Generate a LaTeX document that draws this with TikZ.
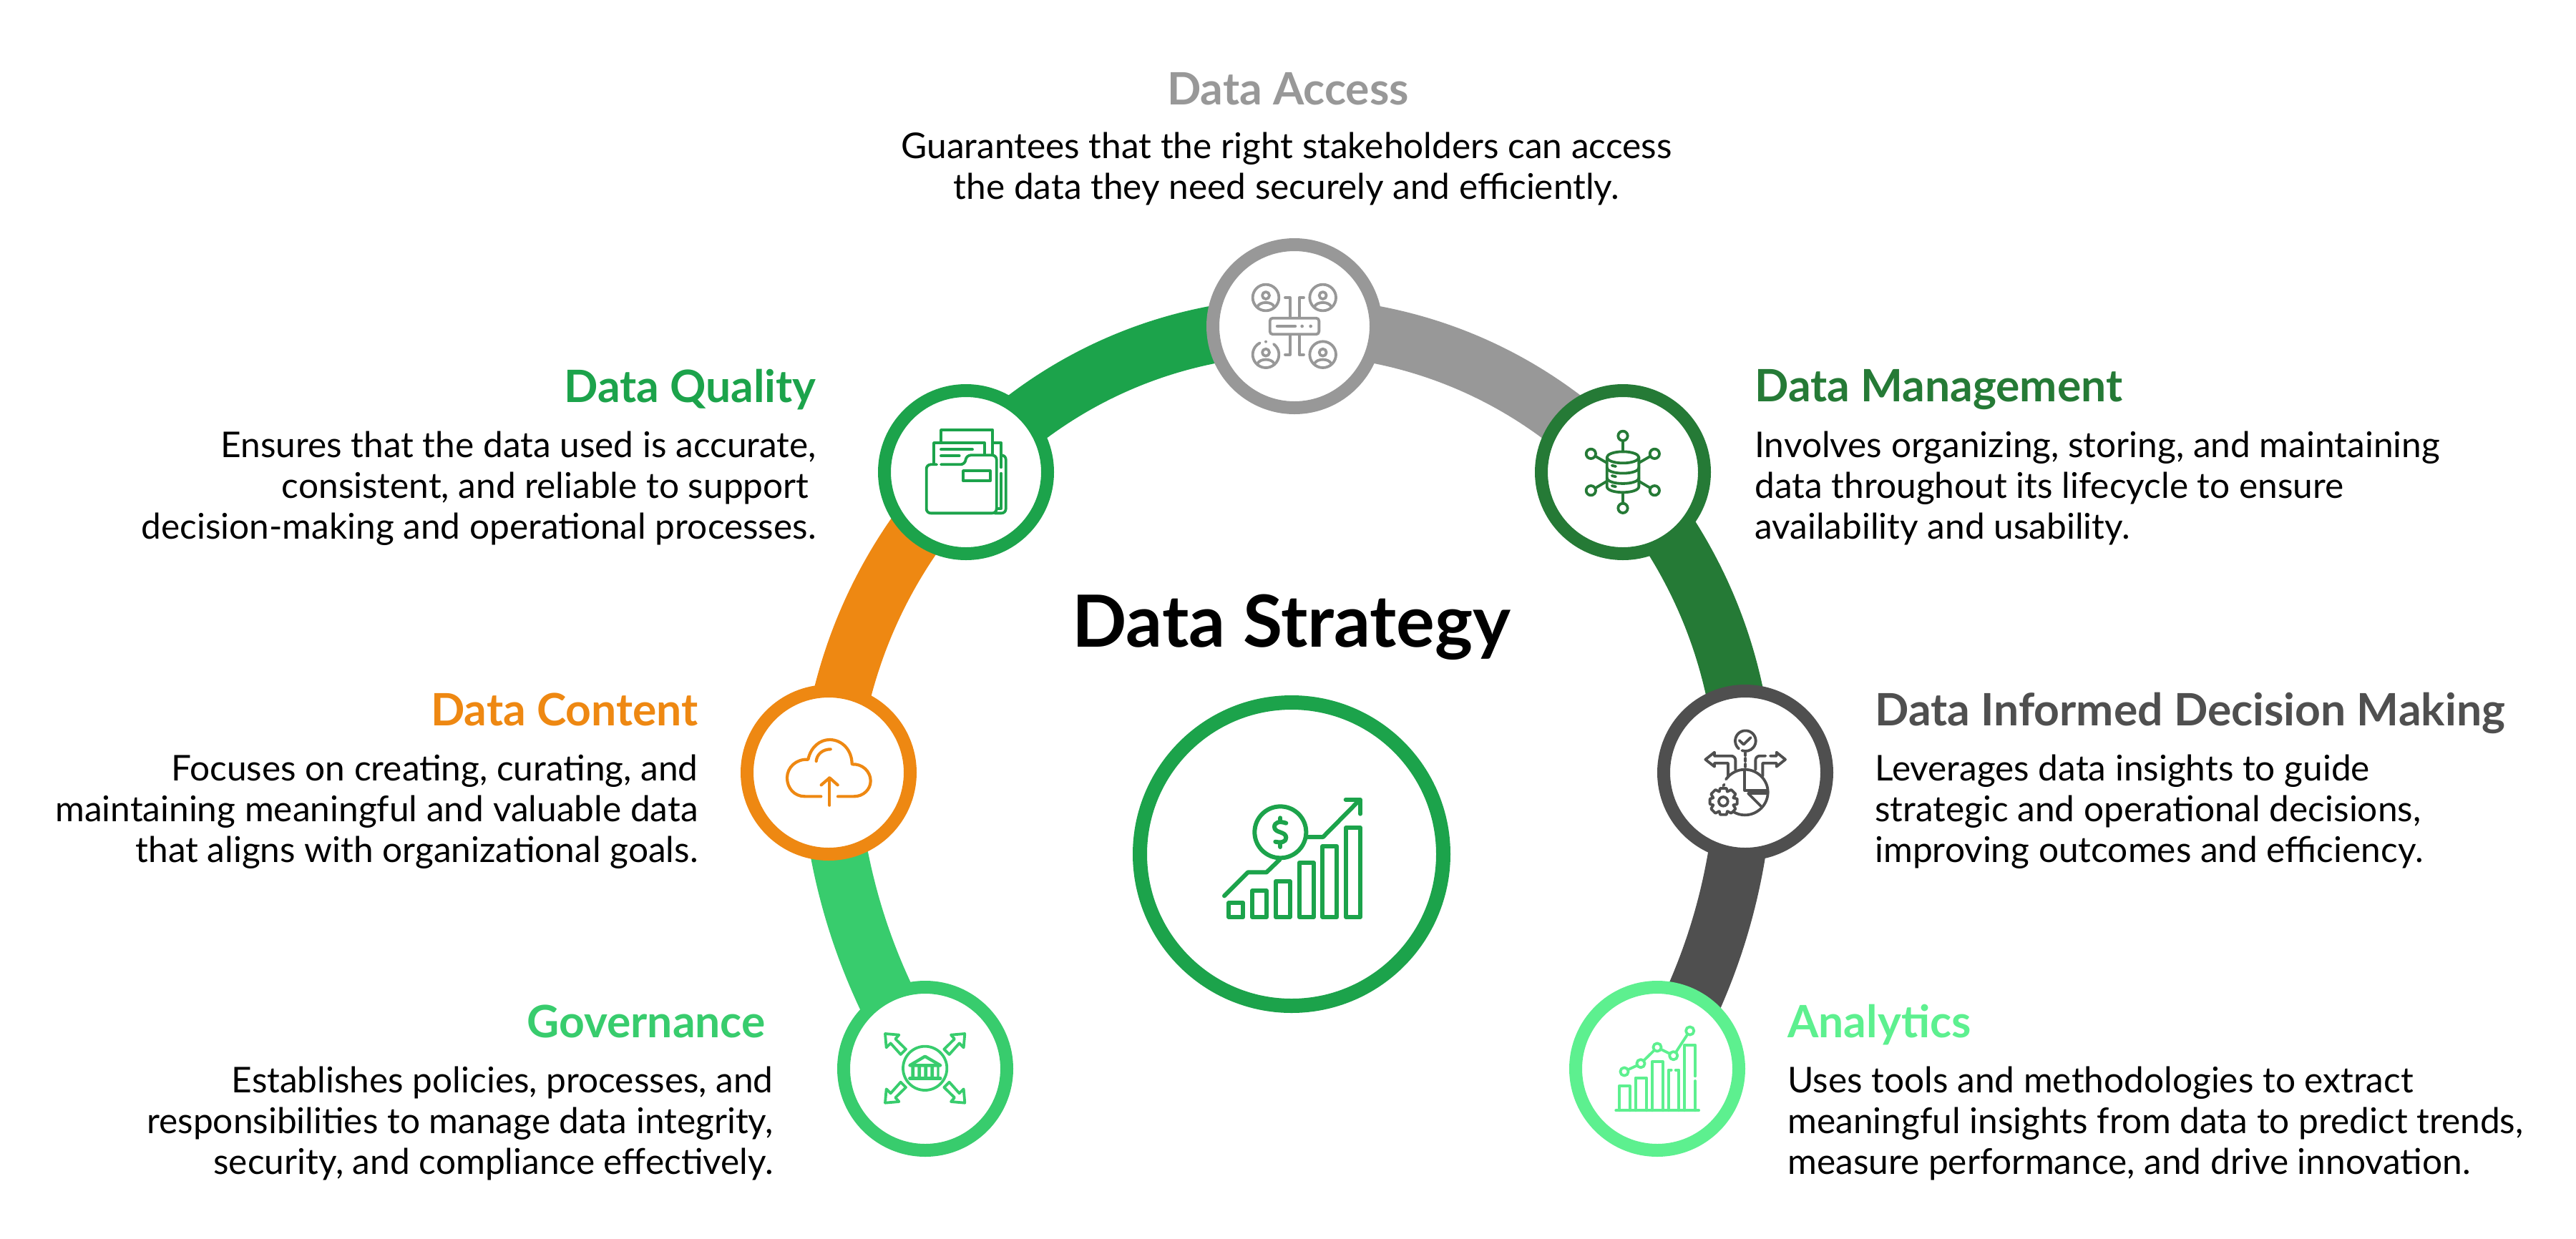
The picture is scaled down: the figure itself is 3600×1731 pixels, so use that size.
\documentclass[tikz,border=0pt]{standalone}
\usepackage{fontspec}
\setmainfont{Lato}
\usetikzlibrary{backgrounds}
\definecolor{cgray}{HTML}{989898}
\definecolor{cgreen}{HTML}{1CA34B}
\definecolor{corange}{HTML}{EE8812}
\definecolor{clime}{HTML}{38CC6D}
\definecolor{cdark}{HTML}{257A36}
\definecolor{cchar}{HTML}{4F4F4F}
\definecolor{cmint}{HTML}{5DF08F}
\tikzset{
  ring/.style={circle,draw=#1,line width=9pt,fill=white,minimum size=114pt,inner sep=0pt},
  link/.style={line width=40pt,draw=#1,looseness=0.9},
  title/.style={font=\fontsize{31.2}{36}\bfseries\selectfont,text=#1,inner sep=0pt},
  bodyr/.style={font=\fontsize{24.8}{28.4}\selectfont,align=right,inner sep=0pt,anchor=north east},
  bodyl/.style={font=\fontsize{24.8}{28.4}\selectfont,align=left,inner sep=0pt,anchor=north west},
  zoomed/.style 2 args={shift={(#1,#2)},x=0.16667pt,y=-0.16667pt},
  ico/.style={draw=#1,line width=1.9pt,line cap=round,line join=round},
}
\newcommand{\personc}[2]{%
  \draw (#1,#2-9) circle (15);
  \draw (#1-35,#2+38) .. controls (#1-25,#2+15) and (#1+25,#2+15) .. (#1+35,#2+38);
}
\begin{document}
\begin{tikzpicture}[x=0.5pt,y=-0.5pt]
\useasboundingbox (0,0) rectangle (3600,1731);

% rings
\node[ring=cgray]  (access)   at (1809,456)  {};
\node[ring=cgreen] (quality)  at (1350,660)  {};
\node[ring=cdark]  (mgmt)     at (2268,660)  {};
\node[ring=corange](content)  at (1158,1080) {};
\node[ring=cchar]  (didm)     at (2439,1080) {};
\node[ring=clime]  (gov)      at (1293,1494) {};
\node[ring=cmint]  (analytics)at (2316,1494) {};
\node[circle,draw=cgreen,line width=10pt,fill=white,minimum size=212pt,inner sep=0pt] (core) at (1805,1194) {};

% connectors, behind the rings
\begin{scope}[on background layer]
\draw[link=cgray]   (access.center) to[bend left=23]  (mgmt.center);
\draw[link=cdark]   (mgmt.center)   to[bend left=19]  (didm.center);
\draw[link=cchar]   (didm.center)   to[bend left=14]  (analytics.center);
\draw[link=cgreen]  (quality.center) to[bend left=23] (access.center);
\draw[link=corange] (content.center) to[bend left=19] (quality.center);
\draw[link=clime]   (gov.center)     to[bend left=14] (content.center);
\end{scope}

% texts
\node[font=\fontsize{50.3}{58}\bfseries\selectfont,inner sep=0pt] (head) at (1805,877) {Data Strategy};

\node[title=cgray] (t1) at (1800,124) {Data Access};
\node[font=\fontsize{24.8}{28.4}\selectfont,align=center,inner sep=0pt,anchor=north] (b1) at (1798,185)
  {Guarantees that the right stakeholders can access\\the data they need securely and efficiently.};

\node[title=cgreen,anchor=east] (t2) at (1141,545) {Data Quality};
\node[bodyr] (b2) at (1141,603) {Ensures that the data used is accurate,\\consistent, and reliable to support\hspace{5pt}\null\\decision-making and operational processes.};

\node[title=cdark,anchor=west] (t3) at (2452,545) {Data Management};
\node[bodyl] (b3) at (2452,603) {Involves organizing, storing, and maintaining\\data throughout its lifecycle to ensure\\availability and usability.};

\node[title=corange,anchor=east] (t4) at (976,992) {Data Content};
\node[bodyr] (b4) at (976,1055) {Focuses on creating, curating, and\\maintaining meaningful and valuable data\\that aligns with organizational goals.};

\node[title=cchar,anchor=west] (t5) at (2620,997) {Data Informed Decision Making};
\node[bodyl] (b5) at (2620,1055) {Leverages data insights to guide\\strategic and operational decisions,\\improving outcomes and efficiency.};

\node[title=clime,anchor=east] (t6) at (1070,1428) {Governance};
\node[bodyr] (b6) at (1081,1491) {Establishes policies, processes, and\\responsibilities to manage data integrity,\\security, and compliance effectively.};

\node[title=cmint,anchor=west] (t7) at (2498,1433) {Analytics};
\node[bodyl] (b7) at (2498,1491) {Uses tools and methodologies to extract\\meaningful insights from data to predict trends,\\measure performance, and drive innovation.};

% icon: access
\begin{scope}[zoomed={1650}{310},ico=cgray]
\draw (357,318) circle (55); \draw (596,318) circle (55); \draw (596,557) circle (55);
\draw (357,557) ++(307:55) arc (307:603:55);
\fill[cgray,draw=none] (357,503) circle (6);
\personc{357}{318}\personc{596}{318}\personc{357}{557}\personc{596}{557}
\draw[rounded corners=2pt] (374,404) rectangle (580,472);
\draw[line width=2.2pt] (405,438) -- (480,438);
\fill[cgray,draw=none] (509,438) circle (7) (545,438) circle (7);
\draw (438,318) -- (458,318) -- (458,400);
\draw (516,318) -- (497,318) -- (497,400);
\draw (438,557) -- (458,557) -- (458,476);
\draw (516,557) -- (497,557) -- (497,476);
\end{scope}

% icon: folder
\begin{scope}[zoomed={1200}{520},ico=cgreen]
\draw (345,295) -- (345,243) -- (562,243) -- (562,345);
\draw (315,385) -- (315,297) -- (527,297) -- (527,345);
\draw (565,297) -- (597,297) -- (597,400);
\draw (597,425) -- (597,572) -- (578,572);
\draw (345,325) -- (477,325);
\draw (345,352) -- (422,352);
\draw[rounded corners=3pt] (327,388) -- (284,388) -- (284,592) -- (578,592) -- (578,349) -- (452,349) -- (445,388) -- (345,388);
\draw[rounded corners=3pt] (597,349) -- (617,349) -- (617,592) -- (570,592);
\draw (438,414) rectangle (551,457);
\end{scope}

% icon: database
\begin{scope}[zoomed={2120}{520},ico=cdark]
\draw (444,358) ellipse (67 and 24);
\draw (377,358) -- (377,480) .. controls (377,513) and (511,513) .. (511,480) -- (511,358);
\draw (377,400) .. controls (377,433) and (511,433) .. (511,400);
\draw (377,443) .. controls (377,476) and (511,476) .. (511,443);
\draw (398,392) -- (414,396) (398,435) -- (414,439) (398,477) -- (414,481);
\foreach \cx/\cy in {444/268,310/343,577/343,310/497,577/497,444/571} \draw (\cx,\cy) circle (20);
\draw (444,288) -- (444,334) (330,354) -- (377,381) (558,354) -- (511,381)
      (330,486) -- (377,458) (558,486) -- (511,458) (444,506) -- (444,551);
\end{scope}

% icon: cloud
\begin{scope}[zoomed={1020}{950},ico=corange,line width=2.1pt]
\draw (382,490) -- (315,490) .. controls (270,490) and (240,455) .. (240,412)
  .. controls (240,368) and (278,332) .. (328,335)
  .. controls (340,280) and (380,252) .. (418,252)
  .. controls (470,252) and (512,295) .. (512,355)
  .. controls (555,352) and (590,385) .. (590,425)
  .. controls (590,460) and (560,490) .. (520,490) -- (453,490);
\draw (362,342) .. controls (365,312) and (390,292) .. (422,292);
\draw (418,527) -- (418,412);
\draw (383,442) -- (418,412) -- (452,442);
\end{scope}

% icon: decision
\begin{scope}[zoomed={2300}{950},ico=cchar]
\draw (418,257) ++(130:43) arc (130:470:43);
\draw (392,255) -- (410,272) -- (440,243);
\draw (418,308) -- (418,318) (418,330) -- (418,342) (418,354) -- (418,366);
\draw (345,410) -- (345,350) -- (288,350) -- (288,365) -- (250,335) -- (288,305) -- (288,320);
\draw[rounded corners=3pt] (288,320) -- (376,320) -- (376,378);
\draw[rounded corners=3pt] (460,378) -- (460,320) -- (502,320);
\draw (522,320) -- (548,320) -- (548,305) -- (585,335) -- (548,365) -- (548,350) -- (490,350) -- (490,405);
\draw (336,418) .. controls (355,392) and (385,377) .. (415,377)
  .. controls (468,377) and (512,420) .. (512,472)
  .. controls (512,525) and (468,568) .. (415,568)
  .. controls (398,568) and (382,563) .. (368,555);
\draw (415,377) -- (415,465) -- (505,465);
\draw (430,478) -- (505,478);
\draw (430,478) -- (482,530);
\draw (325,445) -- (329,440);
\draw plot[smooth cycle,tension=0.1] coordinates {(312,456)(338,456)(342,470)(358,462)(376,480)(367,496)(383,500)(383,522)(367,526)(376,542)(358,560)(342,552)(338,566)(312,566)(308,552)(292,560)(274,542)(283,526)(269,522)(269,500)(283,496)(274,480)(292,462)(308,470)};
\draw (325,511) circle (19);
\end{scope}

% icon: governance
\begin{scope}[zoomed={1150}{1370},ico=clime]
\draw (428,370) circle (92);
\draw[line width=2.2pt] (364,358) -- (428,320) -- (493,358) -- cycle;
\draw[line width=2.2pt] (364,412) -- (493,412);
\fill[clime,draw=none] (370,360) rectangle (384,408) (397,360) rectangle (411,408) (424,360) rectangle (438,408) (451,360) rectangle (465,408) (478,360) rectangle (488,408);
\foreach \sx/\sy in {1/1,-1/1,1/-1,-1/-1}{
  \draw ({428+\sx*109},{370-\sy*140}) -- ({428+\sx*167},{370-\sy*145}) -- ({428+\sx*162},{370-\sy*87}) -- ({428+\sx*144},{370-\sy*105}) -- ({428+\sx*102},{370-\sy*58}) -- ({428+\sx*80},{370-\sy*80}) -- ({428+\sx*124},{370-\sy*123}) -- cycle;
}
\end{scope}

% icon: analytics
\begin{scope}[zoomed={2190}{1370},ico=cmint]
\draw[line width=2pt] (205,547) -- (552,547);
\draw (218,547) -- (218,445) -- (263,445) -- (263,547);
\draw (287,547) -- (287,410) -- (332,410) -- (332,547);
\draw (356,547) -- (356,342) -- (401,342) -- (401,547);
\draw (425,547) -- (425,377) -- (437,377);
\draw (455,377) -- (469,377) -- (469,547);
\draw (492,547) -- (492,272) -- (537,272) -- (537,403);
\draw (537,423) -- (537,547);
\foreach \cx/\cy in {240/384,309/350,378/282,446/317,515/213} \draw (\cx,\cy) circle (17);
\draw (255,376) -- (294,358) (321,338) -- (365,295) (393,290) -- (431,309) (456,303) -- (504,229);
\end{scope}

% icon: core
\begin{scope}[zoomed={1650}{1030},ico=cgreen,line width=3pt]
\foreach \xa/\ya/\xb in {202/696/262,300/646/360,398/606/458,497/528/557,595/459/655,693/381/753}
  \draw (\xa,\ya) rectangle (\xb,756);
\draw (418,400) circle (108);
\draw (442,362) .. controls (415,352) and (393,358) .. (393,378) .. controls (393,405) and (442,395) .. (442,423) .. controls (442,442) and (420,445) .. (397,440);
\draw (418,340) -- (418,356) (418,446) -- (418,462);
\draw (183,667) -- (282,568) -- (360,568) -- (415,515);
\draw (530,420) -- (597,420) -- (750,265);
\draw (692,263) -- (753,263) -- (753,323);
\end{scope}
\end{tikzpicture}
\end{document}
